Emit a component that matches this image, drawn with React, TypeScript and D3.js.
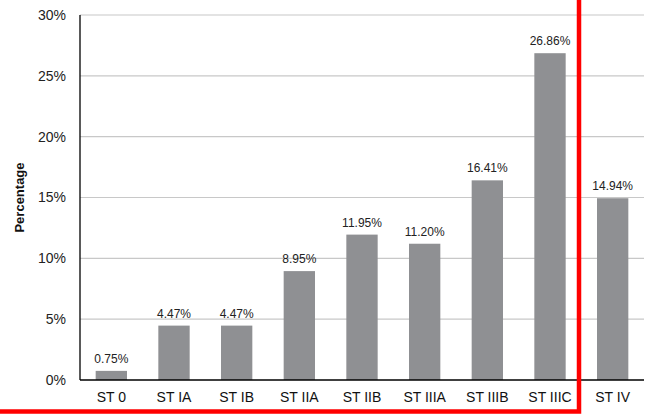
import * as d3 from 'd3';

const CATEGORIES = ['ST 0', 'ST IA', 'ST IB', 'ST IIA', 'ST IIB', 'ST IIIA', 'ST IIIB', 'ST IIIC', 'ST IV'];
const VALUES = [0.75, 4.47, 4.47, 8.95, 11.95, 11.2, 16.41, 26.86, 14.94];
const Y_TICKS = [0, 5, 10, 15, 20, 25, 30];

const W = 647, H = 414;
const M = { top: 15, right: 3, bottom: 34, left: 80 };

export default function App() {
  const x = d3.scaleBand<string>().domain(CATEGORIES).range([M.left, W - M.right]).paddingInner(0.5).paddingOuter(0.25);
  const y = d3.scaleLinear().domain([0, 30]).range([H - M.bottom, M.top]);
  const font = 'Liberation Sans, Arial, sans-serif';
  const y0 = y(0);

  return (
    <svg width={W} height={H} style={{ position: 'absolute', left: 0, top: 0 }} fontFamily={font}>
      <rect width={W} height={H} fill="#fff" />
      {Y_TICKS.map(t => (
        <g key={t}>
          {t > 0 && <line x1={M.left} x2={W - M.right} y1={y(t)} y2={y(t)} stroke="#c8c8c8" strokeWidth={1.2} />}
          <text x={M.left - 14} y={y(t)} dy="0.35em" textAnchor="end" fontSize={14} fill="#222">{t}%</text>
        </g>
      ))}
      {VALUES.map((v, i) => (
        <g key={CATEGORIES[i]}>
          <rect x={x(CATEGORIES[i])} y={y(v)} width={x.bandwidth()} height={y0 - y(v)} fill="#8f9093" />
          <text x={x(CATEGORIES[i])! + x.bandwidth() / 2} y={y(v) - 8} textAnchor="middle" fontSize={12} fill="#222">
            {v.toFixed(2)}%
          </text>
          <text x={x(CATEGORIES[i])! + x.bandwidth() / 2} y={402} textAnchor="middle" fontSize={14} fill="#111">
            {CATEGORIES[i]}
          </text>
        </g>
      ))}
      <line x1={M.left} x2={M.left} y1={y(30)} y2={y0} stroke="#000" strokeWidth={1.3} />
      <line x1={M.left} x2={W - M.right} y1={y0} y2={y0} stroke="#000" strokeWidth={1.3} />
      <text transform={`translate(24,${(y(30) + y0) / 2}) rotate(-90)`} textAnchor="middle" fontSize={13} fontWeight="bold" fill="#111">
        Percentage
      </text>
      <rect x={-10} y={-10} width={589} height={421.5} fill="none" stroke="#ff0000" strokeWidth={4.5} />
    </svg>
  );
}
